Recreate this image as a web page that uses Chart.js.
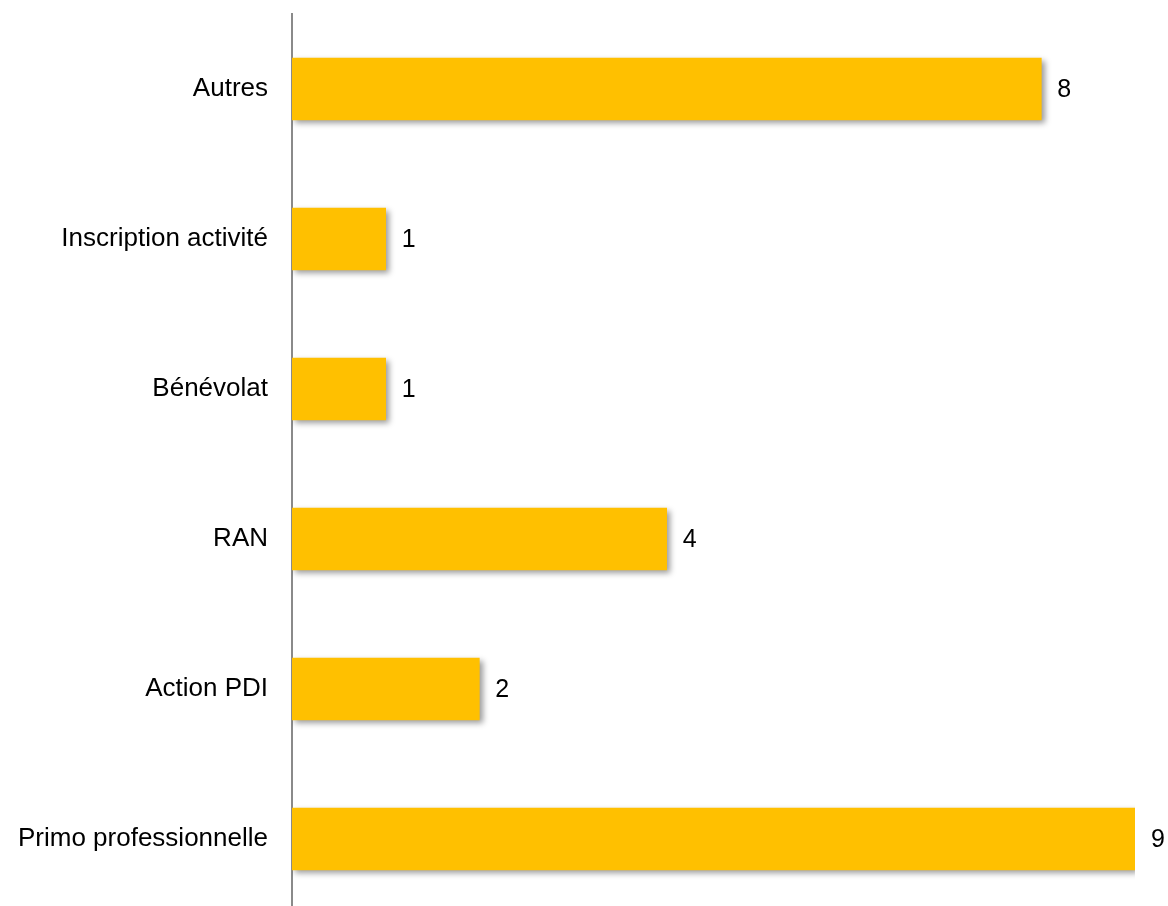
<!DOCTYPE html>
<html>
<head>
<meta charset="utf-8">
<script src="https://cdn.jsdelivr.net/npm/chart.js@4/dist/chart.umd.min.js"></script>
<style>
    html, body { margin: 0; padding: 0; background: #fff; overflow: hidden; }
    canvas { display: block; }
</style>
</head>
<body>
<canvas id="chart" width="1168" height="930"></canvas>
<script>
// Catégories et valeurs (haut -> bas)
const categories = ['Autres', 'Inscription activité', 'Bénévolat', 'RAN', 'Action PDI', 'Primo professionnelle'];
const values = [8, 1, 1, 4, 2, 9];

const FONT = '"Liberation Sans", Arial, sans-serif';

// Ombre portée sous les barres
const barShadow = {
    id: 'barShadow',
    beforeDatasetsDraw(chart) {
        const ctx = chart.ctx;
        ctx.save();
        ctx.shadowColor = 'rgba(0, 0, 0, 0.4)';
        ctx.shadowBlur = 6;
        ctx.shadowOffsetX = 3;
        ctx.shadowOffsetY = 3;
    },
    afterDatasetsDraw(chart) {
        chart.ctx.restore();
    }
};

// Valeurs écrites au bout des barres
const valueLabels = {
    id: 'valueLabels',
    afterDraw(chart) {
        const ctx = chart.ctx;
        const meta = chart.getDatasetMeta(0);
        ctx.save();
        ctx.fillStyle = '#000';
        ctx.font = '25px ' + FONT;
        ctx.textAlign = 'left';
        ctx.textBaseline = 'middle';
        meta.data.forEach((bar, i) => {
            ctx.fillText(String(values[i]), bar.x + 16, bar.y + 1);
        });
        ctx.restore();
    }
};

new Chart(document.getElementById('chart'), {
    type: 'bar',
    data: {
        labels: categories,
        datasets: [{
            data: values,
            backgroundColor: '#FFC000',
            borderWidth: 0,
            barThickness: 62
        }]
    },
    options: {
        indexAxis: 'y',
        responsive: false,
        animation: false,
        layout: { padding: { top: 14, bottom: 16, right: 33, left: 0 } },
        plugins: {
            legend: { display: false },
            tooltip: { enabled: false }
        },
        scales: {
            x: {
                display: false,
                min: 0,
                max: 9
            },
            y: {
                afterFit(scale) {
                    scale.width = 292;
                    scale.paddingTop = 0;
                    scale.paddingBottom = 0;
                },
                grid: { display: false, drawTicks: false },
                border: { display: true, color: '#8a8a8a', width: 2 },
                ticks: {
                    color: '#000',
                    padding: 24,
                    font: { family: FONT, size: 26 }
                }
            }
        }
    },
    plugins: [barShadow, valueLabels]
});
</script>
</body>
</html>
